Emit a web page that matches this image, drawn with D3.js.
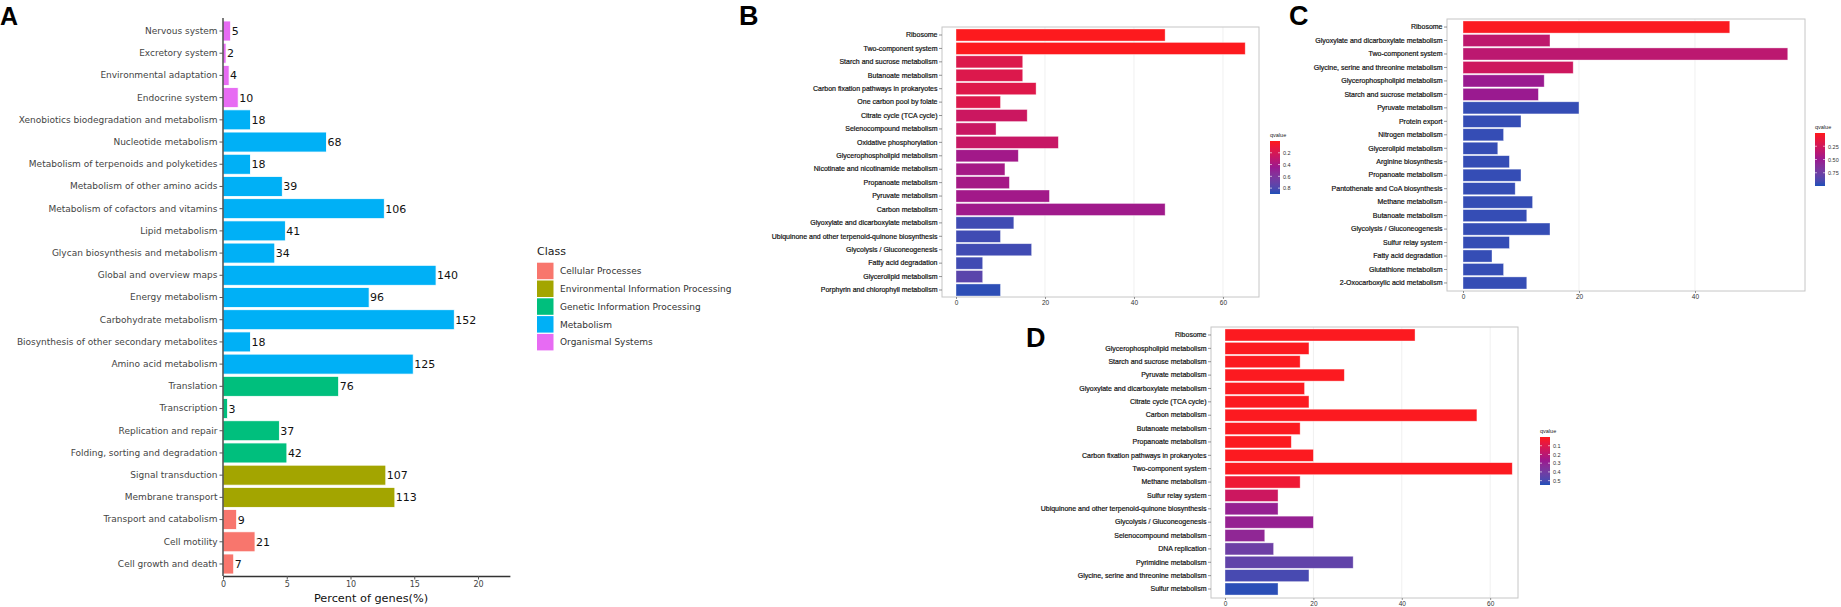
<!DOCTYPE html>
<html><head><meta charset="utf-8">
<script src="https://cdn.jsdelivr.net/npm/d3@7"></script>
<style>body{margin:0;background:#fff}svg{display:block}</style>
</head><body>
<svg id="c" width="1841" height="607"></svg>
<script>
// ---------- Panel A data ----------
const aCategories = ["Nervous system","Excretory system","Environmental adaptation","Endocrine system","Xenobiotics biodegradation and metabolism","Nucleotide metabolism","Metabolism of terpenoids and polyketides","Metabolism of other amino acids","Metabolism of cofactors and vitamins","Lipid metabolism","Glycan biosynthesis and metabolism","Global and overview maps","Energy metabolism","Carbohydrate metabolism","Biosynthesis of other secondary metabolites","Amino acid metabolism","Translation","Transcription","Replication and repair","Folding, sorting and degradation","Signal transduction","Membrane transport","Transport and catabolism","Cell motility","Cell growth and death"];
const aCounts = [5,2,4,10,18,68,18,39,106,41,34,140,96,152,18,125,76,3,37,42,107,113,9,21,7];
const aPercent = [0.60,0.24,0.48,1.19,2.15,8.11,2.15,4.65,12.65,4.89,4.06,16.71,11.46,18.14,2.15,14.92,9.07,0.36,4.42,5.01,12.77,13.48,1.07,2.51,0.84];
const aClass = ["Organismal Systems","Organismal Systems","Organismal Systems","Organismal Systems",
  "Metabolism","Metabolism","Metabolism","Metabolism","Metabolism","Metabolism","Metabolism","Metabolism","Metabolism","Metabolism","Metabolism","Metabolism",
  "Genetic Information Processing","Genetic Information Processing","Genetic Information Processing","Genetic Information Processing",
  "Environmental Information Processing","Environmental Information Processing",
  "Cellular Processes","Cellular Processes","Cellular Processes"];
const classNames = ["Cellular Processes","Environmental Information Processing","Genetic Information Processing","Metabolism","Organismal Systems"];
const classColors = ["#F8766D","#A3A500","#00BF7D","#00B0F6","#E76BF3"];
const aTicks = [0,5,10,15,20];

// ---------- Panel B data ----------
const bCategories = ["Ribosome","Two-component system","Starch and sucrose metabolism","Butanoate metabolism","Carbon fixation pathways in prokaryotes","One carbon pool by folate","Citrate cycle (TCA cycle)","Selenocompound metabolism","Oxidative phosphorylation","Glycerophospholipid metabolism","Nicotinate and nicotinamide metabolism","Propanoate metabolism","Pyruvate metabolism","Carbon metabolism","Glyoxylate and dicarboxylate metabolism","Ubiquinone and other terpenoid-quinone biosynthesis","Glycolysis / Gluconeogenesis","Fatty acid degradation","Glycerolipid metabolism","Porphyrin and chlorophyll metabolism"];
const bValues = [47,65,15,15,18,10,16,9,23,14,11,12,21,47,13,10,17,6,6,10];
const bQvalues = [0.01,0.01,0.17,0.17,0.16,0.17,0.25,0.26,0.27,0.42,0.41,0.41,0.42,0.43,0.84,0.84,0.84,0.84,0.76,0.88];
const bTicks = [0,20,40,60];
const bQTicks = [0.2,0.4,0.6,0.8];

// ---------- Panel C data ----------
const cCategories = ["Ribosome","Glyoxylate and dicarboxylate metabolism","Two-component system","Glycine, serine and threonine metabolism","Glycerophospholipid metabolism","Starch and sucrose metabolism","Pyruvate metabolism","Protein export","Nitrogen metabolism","Glycerolipid metabolism","Arginine biosynthesis","Propanoate metabolism","Pantothenate and CoA biosynthesis","Methane metabolism","Butanoate metabolism","Glycolysis / Gluconeogenesis","Sulfur relay system","Fatty acid degradation","Glutathione metabolism","2-Oxocarboxylic acid metabolism"];
const cValues = [46,15,56,19,14,13,20,10,7,6,8,10,9,12,11,15,8,5,7,11];
const cQvalues = [0.02,0.34,0.35,0.27,0.50,0.50,0.96,0.96,0.96,0.96,0.96,0.96,0.96,0.96,0.96,0.96,0.96,0.96,0.96,0.96];
const cTicks = [0,20,40];
const cQTicks = [0.25,0.5,0.75];

// ---------- Panel D data ----------
const dCategories = ["Ribosome","Glycerophospholipid metabolism","Starch and sucrose metabolism","Pyruvate metabolism","Glyoxylate and dicarboxylate metabolism","Citrate cycle (TCA cycle)","Carbon metabolism","Butanoate metabolism","Propanoate metabolism","Carbon fixation pathways in prokaryotes","Two-component system","Methane metabolism","Sulfur relay system","Ubiquinone and other terpenoid-quinone biosynthesis","Glycolysis / Gluconeogenesis","Selenocompound metabolism","DNA replication","Pyrimidine metabolism","Glycine, serine and threonine metabolism","Sulfur metabolism"];
const dValues = [43,19,17,27,18,19,57,17,15,20,65,17,12,12,20,9,11,29,19,12];
const dQvalues = [0.01,0.01,0.01,0.01,0.01,0.01,0.01,0.01,0.01,0.01,0.01,0.05,0.15,0.29,0.29,0.31,0.42,0.45,0.50,0.54];
const dTicks = [0,20,40,60];
const dQTicks = [0.1,0.2,0.3,0.4,0.5];

const LOW = "#ff1a1a", MID = "#9a1a90", HIGH = "#1f4fb8";
const svg = d3.select("#c");
svg.append("rect").attr("width",1841).attr("height",607).attr("fill","#fff");

// ---------- Panel A ----------
(function(){
  const g = svg.append("g");
  const font = "DejaVu Sans, sans-serif";
  const y = d3.scaleBand().domain(aCategories).range([19.9, 575.1]).paddingInner(0.1).paddingOuter(0.05);
  const x = d3.scaleLinear().domain([0, 22.5]).range([223, 223 + 22.5*12.75]);
  const cmap = d3.scaleOrdinal().domain(classNames).range(classColors);
  g.selectAll("rect.bar").data(aCategories).join("rect").attr("class","bar")
    .attr("x", x(0)).attr("y", d => y(d)).attr("height", y.bandwidth())
    .attr("width", (d,i) => x(aPercent[i]) - x(0))
    .attr("fill", (d,i) => cmap(aClass[i]))
    .attr("stroke","#fff").attr("stroke-width",0.8);
  g.selectAll("text.val").data(aCategories).join("text").attr("class","val")
    .attr("x", (d,i) => x(aPercent[i]) + 1).attr("y", d => y(d) + y.bandwidth()/2)
    .attr("dy","0.36em").attr("font-family",font).attr("font-size",11).attr("fill","#111")
    .text((d,i) => aCounts[i]);
  const yAx = g.append("g").attr("transform","translate(223,0)")
    .call(d3.axisLeft(y).tickSize(3.5).tickPadding(2).tickSizeOuter(0));
  yAx.select(".domain").attr("d","M0,18V576").attr("stroke","#333").attr("stroke-width",1.3);
  yAx.selectAll(".tick line").attr("stroke","#555");
  yAx.selectAll("text").attr("font-family",font).attr("font-size",9).attr("fill","#444");
  const xAx = g.append("g").attr("transform","translate(0,576)")
    .call(d3.axisBottom(x).tickValues(aTicks).tickSize(3.5).tickPadding(2).tickSizeOuter(0));
  xAx.select(".domain").attr("stroke","#333").attr("stroke-width",1.3);
  xAx.selectAll(".tick line").attr("stroke","#555");
  xAx.selectAll("text").attr("font-family",font).attr("font-size",8).attr("fill","#444");
  g.append("text").attr("x",371).attr("y",602).attr("text-anchor","middle")
    .attr("font-family",font).attr("font-size",11.3).attr("fill","#111").text("Percent of genes(%)");
  // legend
  const lg = g.append("g");
  lg.append("text").attr("x",537).attr("y",255).attr("font-family",font).attr("font-size",11).attr("fill","#222").text("Class");
  lg.selectAll("rect").data(classNames).join("rect")
    .attr("x",537).attr("y",(d,i)=>262.7 + i*17.8).attr("width",16.5).attr("height",16.5).attr("fill",d=>cmap(d));
  lg.selectAll("text.li").data(classNames).join("text").attr("class","li")
    .attr("x",560).attr("y",(d,i)=>271 + i*17.8).attr("dy","0.36em")
    .attr("font-family",font).attr("font-size",9).attr("fill","#333").text(d=>d);
  svg.append("text").attr("x",0).attr("y",25).attr("font-family","Liberation Sans, Arial, sans-serif")
    .attr("font-weight","bold").attr("font-size",25).attr("fill","#000").text("A");
})();

// ---------- Generic enrichment panel ----------
function drawPanel(c){
  const g = svg.append("g");
  const font = "Liberation Sans, Arial, sans-serif";
  const y = d3.scaleBand().domain(c.cats).range([c.bandTop, c.bandBottom]).paddingInner(0.1).paddingOuter(0.05);
  const x = d3.scaleLinear().domain([0, c.xmax]).range([c.x0, c.frameRight]);
  const q0 = c.qDomain[0], q1 = c.qDomain[1];
  const col = d3.scaleLinear().domain([q0, (q0+q1)/2, q1]).range([LOW, MID, HIGH]).interpolate(d3.interpolateLab).clamp(true);
  g.selectAll("line.grid").data(c.ticks.filter(t => t > 0)).join("line").attr("class","grid")
    .attr("x1", d => x(d)).attr("x2", d => x(d)).attr("y1", c.frameTop).attr("y2", c.frameBottom)
    .attr("stroke","#f0f0f0").attr("stroke-width",1);
  g.selectAll("rect.bar").data(c.cats).join("rect").attr("class","bar")
    .attr("x", x(0)).attr("y", d => y(d)).attr("height", y.bandwidth())
    .attr("width", (d,i) => x(c.values[i]) - x(0))
    .attr("fill", (d,i) => col(c.q[i]))
    .attr("stroke","#ffffff").attr("stroke-opacity",0.55).attr("stroke-width",0.7);
  g.append("rect").attr("x",c.frameLeft).attr("y",c.frameTop)
    .attr("width",c.frameRight - c.frameLeft).attr("height",c.frameBottom - c.frameTop)
    .attr("fill","none").attr("stroke","#c6c6c6").attr("stroke-width",1);
  const yAx = g.append("g").attr("transform",`translate(${c.frameLeft},0)`)
    .call(d3.axisLeft(y).tickSize(3).tickPadding(1.5).tickSizeOuter(0));
  yAx.select(".domain").remove();
  yAx.selectAll(".tick line").attr("stroke","#666").attr("stroke-width",0.7);
  yAx.selectAll("text").attr("font-family",font).attr("font-size",7).attr("fill","#111")
    .attr("stroke","#111").attr("stroke-width",0.2);
  const xAx = g.append("g").attr("transform",`translate(0,${c.frameBottom})`)
    .call(d3.axisBottom(x).tickValues(c.ticks).tickSize(2).tickPadding(1.5).tickSizeOuter(0));
  xAx.select(".domain").remove();
  xAx.selectAll(".tick line").attr("stroke","#666").attr("stroke-width",0.7);
  xAx.selectAll("text").attr("font-family",font).attr("font-size",6.5).attr("fill","#333");
  // colorbar
  const gid = "grad" + c.letter;
  const grad = svg.append("defs").append("linearGradient").attr("id",gid)
    .attr("x1","0").attr("y1","0").attr("x2","0").attr("y2","1");
  d3.range(0,1.0001,0.1).forEach(t => {
    grad.append("stop").attr("offset",t).attr("stop-color", col(q0 + t*(q1-q0)));
  });
  const qs = d3.scaleLinear().domain(c.qDomain).range([c.cbTop, c.cbBottom]);
  g.append("rect").attr("x",c.cbX).attr("y",c.cbTop).attr("width",10).attr("height",c.cbBottom - c.cbTop).attr("fill",`url(#${gid})`);
  g.append("text").attr("x",c.cbX).attr("y",c.cbTop - 4).attr("font-family",font).attr("font-size",5.5).attr("fill","#222").text("qvalue");
  const cb = g.append("g").attr("transform",`translate(${c.cbX + 10},0)`)
    .call(d3.axisRight(qs).tickValues(c.qTicks).tickFormat(c.qFmt).tickSize(0).tickPadding(3));
  cb.select(".domain").remove();
  cb.selectAll("text").attr("font-family",font).attr("font-size",5.5).attr("fill","#333");
  g.selectAll("line.cbt").data(c.qTicks).join("line").attr("class","cbt")
    .attr("x1",c.cbX).attr("x2",c.cbX+2).attr("y1",d=>qs(d)).attr("y2",d=>qs(d)).attr("stroke","#fff").attr("stroke-width",0.6);
  g.selectAll("line.cbt2").data(c.qTicks).join("line").attr("class","cbt2")
    .attr("x1",c.cbX+8).attr("x2",c.cbX+10).attr("y1",d=>qs(d)).attr("y2",d=>qs(d)).attr("stroke","#fff").attr("stroke-width",0.6);
  svg.append("text").attr("x",c.letterX).attr("y",c.letterY).attr("font-family",font)
    .attr("font-weight","bold").attr("font-size",27).attr("fill","#000").text(c.letter);
}

drawPanel({letter:"B", letterX:739, letterY:25, cats:bCategories, values:bValues, q:bQvalues, ticks:bTicks,
  frameLeft:942, frameRight:1259, frameTop:27, frameBottom:297, bandTop:28.3, bandBottom:296.7,
  x0:956, xmax:68.1, qDomain:[0,0.9], qTicks:bQTicks, qFmt:d3.format(".1f"),
  cbX:1270, cbTop:141, cbBottom:194});
drawPanel({letter:"C", letterX:1289, letterY:25, cats:cCategories, values:cValues, q:cQvalues, ticks:cTicks,
  frameLeft:1447, frameRight:1805, frameTop:19, frameBottom:291, bandTop:20.3, bandBottom:289.7,
  x0:1463, xmax:58.97, qDomain:[0,1], qTicks:cQTicks, qFmt:d3.format(".2f"),
  cbX:1815, cbTop:133, cbBottom:186});
drawPanel({letter:"D", letterX:1026, letterY:347, cats:dCategories, values:dValues, q:dQvalues, ticks:dTicks,
  frameLeft:1211, frameRight:1518, frameTop:327, frameBottom:598, bandTop:328.3, bandBottom:595.7,
  x0:1225, xmax:66.3, qDomain:[0,0.55], qTicks:dQTicks, qFmt:d3.format(".1f"),
  cbX:1540, cbTop:437, cbBottom:485});
</script>
</body></html>
